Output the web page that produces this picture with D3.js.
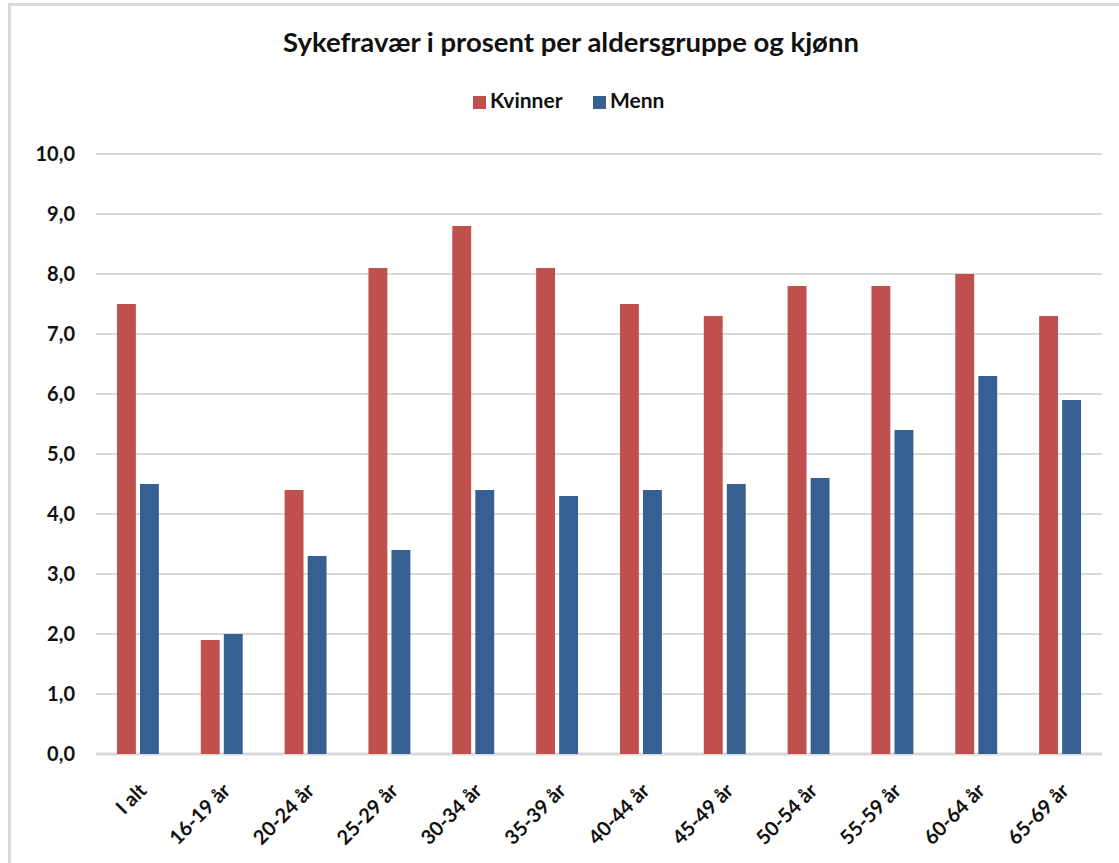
<!DOCTYPE html>
<html lang="no">
<head>
<meta charset="UTF-8">
<title>Sykefravær i prosent per aldersgruppe og kjønn</title>
<script src="https://d3js.org/d3.v7.min.js"></script>
<style>
  body { margin: 0; background: #fff; }
  text { font-family: Lato, "Open Sans", sans-serif; fill: #111; }
</style>
</head>
<body>
<div id="chart"></div>
<script>
var categories = ['I alt', '16-19 år', '20-24 år', '25-29 år', '30-34 år', '35-39 år',
                  '40-44 år', '45-49 år', '50-54 år', '55-59 år', '60-64 år', '65-69 år'];
var kvinner = [7.5, 1.9, 4.4, 8.1, 8.8, 8.1, 7.5, 7.3, 7.8, 7.8, 8.0, 7.3];
var menn    = [4.5, 2.0, 3.3, 3.4, 4.4, 4.3, 4.4, 4.5, 4.6, 5.4, 6.3, 5.9];
var seriesNames = ['Kvinner', 'Menn'];
var yTicks = [0, 1, 2, 3, 4, 5, 6, 7, 8, 9, 10];

var colors = { Kvinner: '#c0504d', Menn: '#376092' };

var width = 1119, height = 863;
var margin = { top: 154, right: 17, bottom: 108, left: 96 };

var svg = d3.select('#chart').append('svg')
  .attr('width', width)
  .attr('height', height);

// frame
svg.append('path')
  .attr('d', 'M9.5,' + height + 'V4.5H' + width)
  .attr('fill', 'none')
  .attr('stroke', '#d9d9d9')
  .attr('stroke-width', 3);

var x0 = d3.scaleBand()
  .domain(categories)
  .range([margin.left, width - margin.right])
  .paddingInner(0.5)
  .paddingOuter(0.25);

var x1 = d3.scaleBand()
  .domain(seriesNames)
  .range([0, x0.bandwidth()])
  .paddingInner(0.18);

var y = d3.scaleLinear()
  .domain([0, 10])
  .range([height - margin.bottom - 1, margin.top]);

// gridlines
svg.append('g')
  .selectAll('line')
  .data(yTicks)
  .enter().append('line')
  .attr('x1', margin.left)
  .attr('x2', width - margin.right)
  .attr('y1', function(d) { return y(d); })
  .attr('y2', function(d) { return y(d); })
  .attr('stroke', '#d9d9d9')
  .attr('stroke-width', function(d) { return d === 0 ? 3 : 2; });

// y labels
var fmt = function(d) { return d3.format('.1f')(d).replace('.', ','); };
svg.append('g')
  .selectAll('text')
  .data(yTicks)
  .enter().append('text')
  .attr('x', 75)
  .attr('y', function(d) { return y(d); })
  .attr('dy', '0.35em')
  .attr('text-anchor', 'end')
  .style('font-size', '20px')
  .style('font-weight', 'bold')
  .text(fmt);

// bars
var rows = categories.map(function(c, i) {
  return { cat: c, values: [{ key: 'Kvinner', v: kvinner[i] }, { key: 'Menn', v: menn[i] }] };
});

var groups = svg.append('g')
  .selectAll('g')
  .data(rows)
  .enter().append('g')
  .attr('transform', function(d) { return 'translate(' + x0(d.cat) + ',0)'; });

groups.selectAll('rect')
  .data(function(d) { return d.values; })
  .enter().append('rect')
  .attr('x', function(d) { return x1(d.key); })
  .attr('width', x1.bandwidth())
  .attr('y', function(d) { return y(d.v); })
  .attr('height', function(d) { return y(0) - y(d.v); })
  .attr('fill', function(d) { return colors[d.key]; });

// x labels
svg.append('g')
  .selectAll('text')
  .data(categories)
  .enter().append('text')
  .attr('transform', function(d) {
    return 'translate(' + (x0(d) + x0.bandwidth() / 2) + ',' + 782 + ') rotate(-45)';
  })
  .attr('text-anchor', 'end')
  .attr('dy', '0.7em')
  .style('font-size', '20px')
  .style('font-weight', 'bold')
  .text(function(d) { return d; });

// title
svg.append('text')
  .attr('x', 571)
  .attr('y', 52)
  .attr('text-anchor', 'middle')
  .style('font-size', '27.5px')
  .style('font-weight', 'bold')
  .text('Sykefravær i prosent per aldersgruppe og kjønn');

// legend
var legend = svg.append('g');
var legendX = [473, 593];
seriesNames.forEach(function(s, i) {
  legend.append('rect')
    .attr('x', legendX[i])
    .attr('y', 96)
    .attr('width', 13)
    .attr('height', 13)
    .attr('fill', colors[s]);
  legend.append('text')
    .attr('x', legendX[i] + 17)
    .attr('y', 108)
    .style('font-size', '21px')
    .style('font-weight', 'bold')
    .text(s);
});
</script>
</body>
</html>
